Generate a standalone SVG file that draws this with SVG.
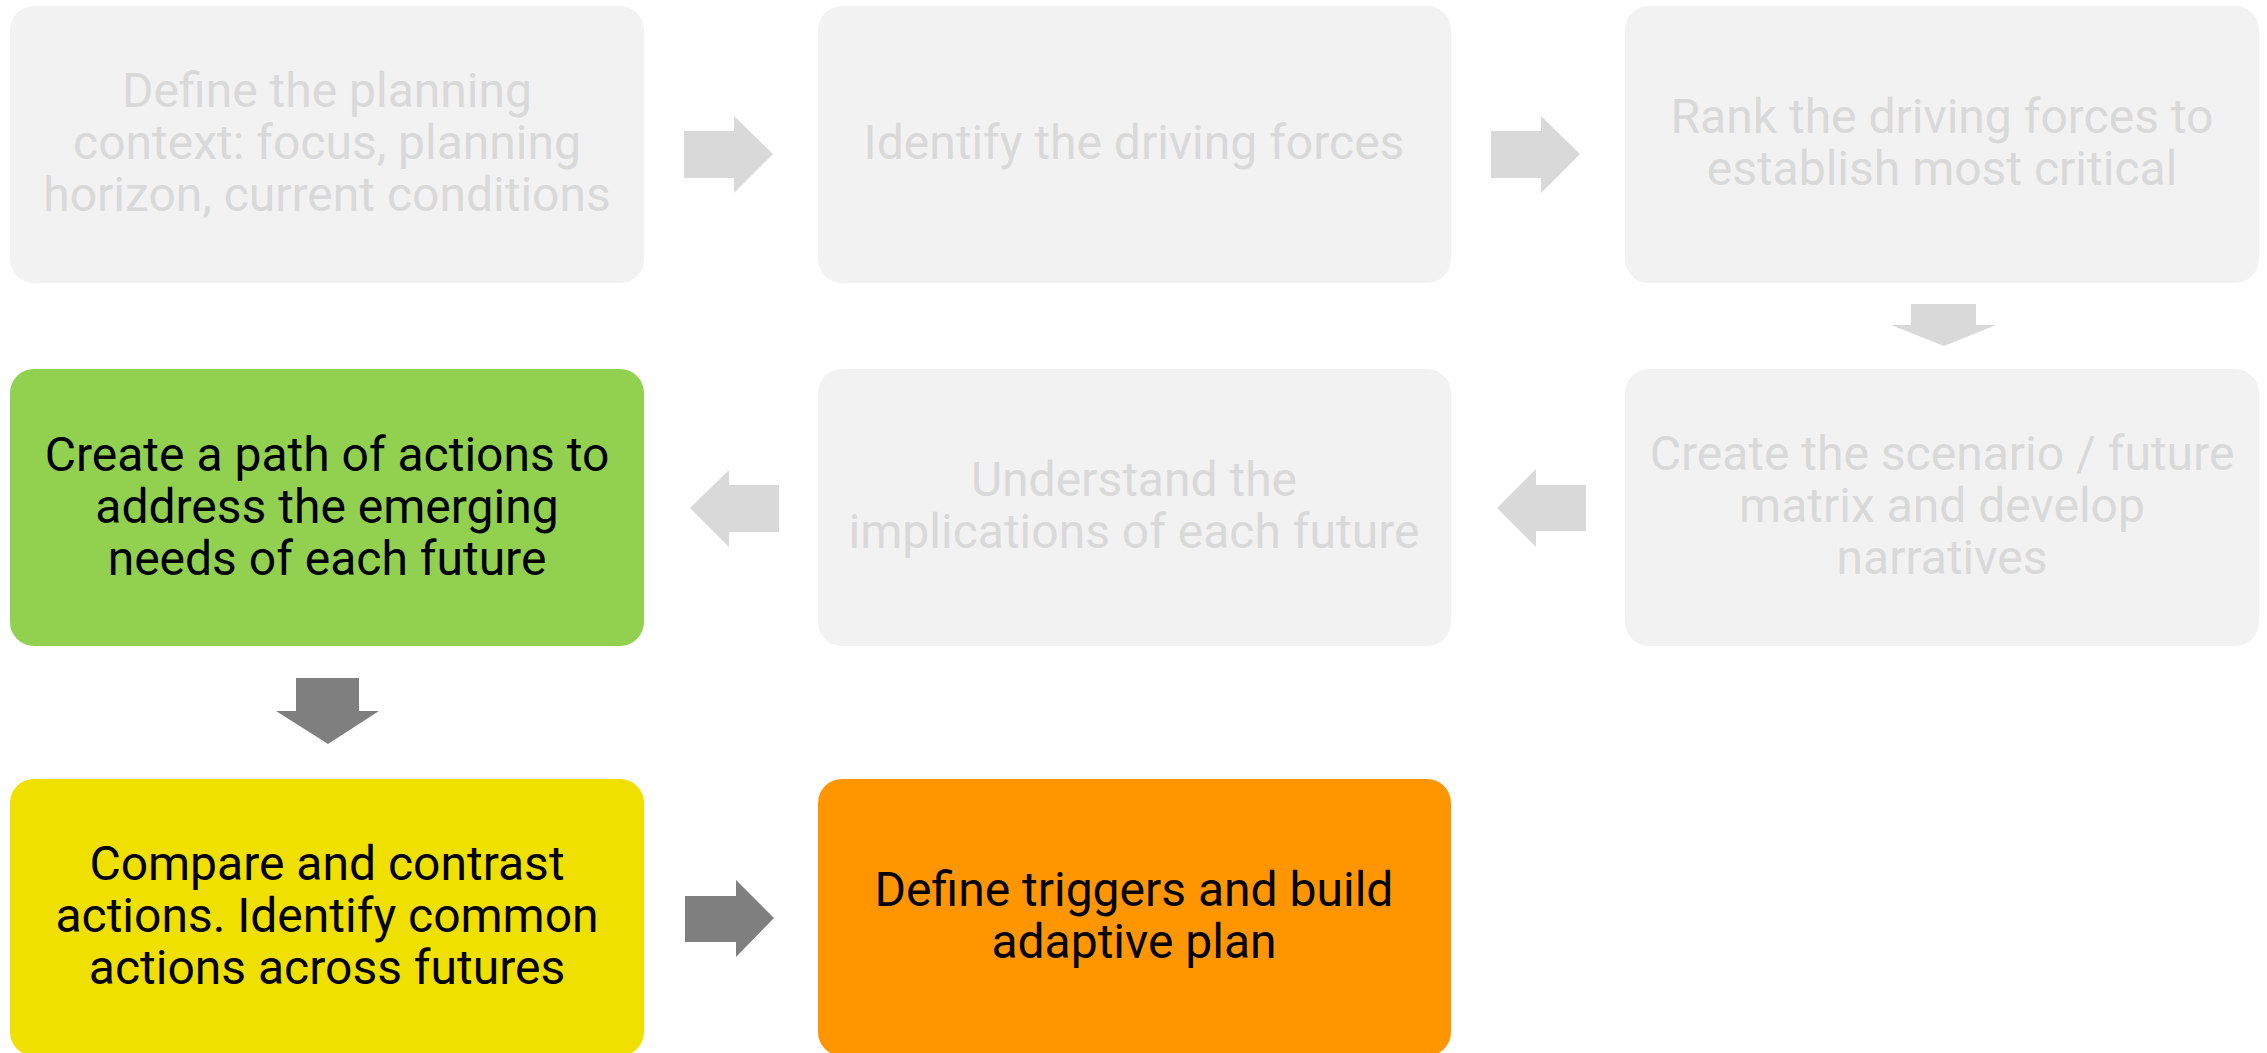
<svg xmlns="http://www.w3.org/2000/svg" width="2267" height="1053" viewBox="0 0 2267 1053">
<style>
.box{stroke:none}
.g{fill:#F2F2F2}
.t{font-family:Roboto,"Liberation Sans",sans-serif;font-size:48px;text-anchor:middle}
.tg{fill:#D9D9D9}
.tb{fill:#000000}
.ag{fill:#D9D9D9}
.ad{fill:#7F7F7F}
</style>
<rect width="2267" height="1053" fill="#FFFFFF"/>
<g id="connectors">
<polygon class="ag" points="684,131 734,131 734,116 773,154 734,193 734,178 684,178"/>
<polygon class="ag" points="1491,131 1541,131 1541,116 1580,154 1541,193 1541,178 1491,178"/>
<polygon class="ag" points="1911,304 1976,304 1976,325 1996,325 1944,346 1891,325 1911,325"/>
<polygon class="ag" points="1586,485 1536,485 1536,469 1497,508 1536,547 1536,531 1586,531"/>
<polygon class="ag" points="779,485 729,485 729,470 690,508 729,547 729,532 779,532"/>
<polygon class="ad" points="296,678 359,678 359,711 379,711 328,744 276,711 296,711"/>
<polygon class="ad" points="685,896 736,896 736,880 774,918 736,957 736,942 685,942"/>
</g>
<g id="node1">
<rect class="box g" x="10" y="6" width="634" height="277" rx="24" ry="24"/>
<text class="t tg" x="327" y="107">Define the planning</text>
<text class="t tg" x="327" y="159">context: focus, planning</text>
<text class="t tg" x="327" y="211">horizon, current conditions</text>
</g>
<g id="node2">
<rect class="box g" x="818" y="6" width="633" height="277" rx="24" ry="24"/>
<text class="t tg" x="1134" y="159">Identify the driving forces</text>
</g>
<g id="node3">
<rect class="box g" x="1625" y="6" width="634" height="277" rx="24" ry="24"/>
<text class="t tg" x="1942" y="133">Rank the driving forces to</text>
<text class="t tg" x="1942" y="185">establish most critical</text>
</g>
<g id="node4">
<rect class="box" fill="#92D050" x="10" y="369" width="634" height="277" rx="24" ry="24"/>
<text class="t tb" x="327" y="471">Create a path of actions to</text>
<text class="t tb" x="327" y="523">address the emerging</text>
<text class="t tb" x="327" y="575">needs of each future</text>
</g>
<g id="node5">
<rect class="box g" x="818" y="369" width="633" height="277" rx="24" ry="24"/>
<text class="t tg" x="1134" y="496">Understand the</text>
<text class="t tg" x="1134" y="548">implications of each future</text>
</g>
<g id="node6">
<rect class="box g" x="1625" y="369" width="634" height="277" rx="24" ry="24"/>
<text class="t tg" x="1942" y="470">Create the scenario / future</text>
<text class="t tg" x="1942" y="522">matrix and develop</text>
<text class="t tg" x="1942" y="574">narratives</text>
</g>
<g id="node7">
<rect class="box" fill="#F0E000" x="10" y="779" width="634" height="277" rx="24" ry="24"/>
<text class="t tb" x="327" y="880">Compare and contrast</text>
<text class="t tb" x="327" y="932">actions. Identify common</text>
<text class="t tb" x="327" y="984">actions across futures</text>
</g>
<g id="node8">
<rect class="box" fill="#FF9600" x="818" y="779" width="633" height="277" rx="24" ry="24"/>
<text class="t tb" x="1134" y="906">Define triggers and build</text>
<text class="t tb" x="1134" y="958">adaptive plan</text>
</g>
</svg>
